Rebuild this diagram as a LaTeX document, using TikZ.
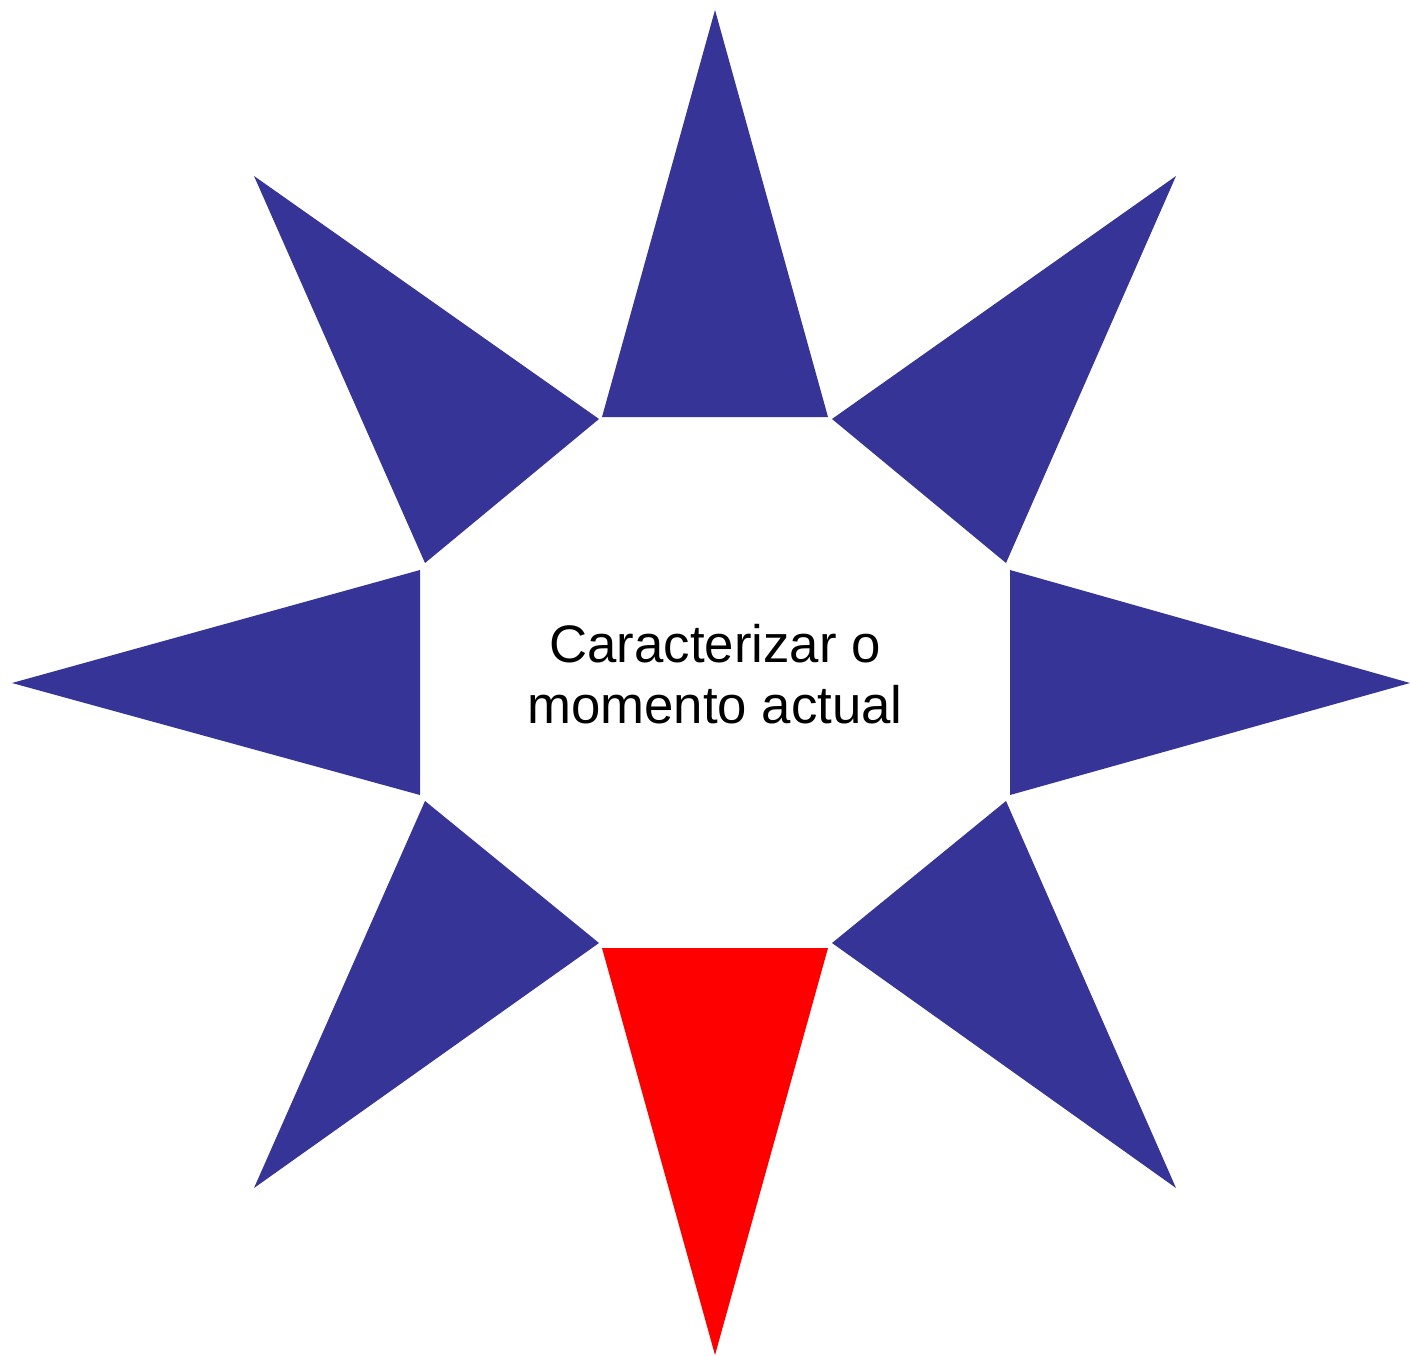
\documentclass[tikz,border=0pt]{standalone}
\usepackage{fontspec}
\setmainfont{Liberation Sans}
\usepackage{xcolor}
\usepackage{tikz}
\definecolor{stBlue}{HTML}{363597}
\definecolor{stRed}{HTML}{FF0000}
\tikzset{
  % Blue star ray
  ray/.style={fill=stBlue,draw=none},
  % Highlighted ray (red)
  rayhi/.style={fill=stRed,draw=none},
  % Centre text
  ctext/.style={align=center,font=\fontsize{15}{17.4}\selectfont,text=black},
}
\begin{document}
\begin{tikzpicture}[x=0.01cm,y=-0.01cm]
  \useasboundingbox (0,0) rectangle (1410,1355);
  % rays, clockwise from top
  \fill[ray] (602,417) -- (828,417) -- (715,10) -- cycle;
  \fill[ray] (832,419) -- (1006,563) -- (1176,176) -- cycle;
  \fill[ray] (1010,570) -- (1010,795) -- (1410,683) -- cycle;
  \fill[ray] (1006,801) -- (832,943) -- (1176,1188) -- cycle;
  \fill[rayhi] (602,948) -- (828,948) -- (715,1355) -- cycle;
  \fill[ray] (425,801) -- (599,943) -- (254,1188) -- cycle;
  \fill[ray] (420,570) -- (420,795) -- (12,683) -- cycle;
  \fill[ray] (425,563) -- (599,419) -- (254,176) -- cycle;

  \node[ctext] (title) at (715,674) {Caracterizar o\\momento actual};
\end{tikzpicture}
\end{document}
